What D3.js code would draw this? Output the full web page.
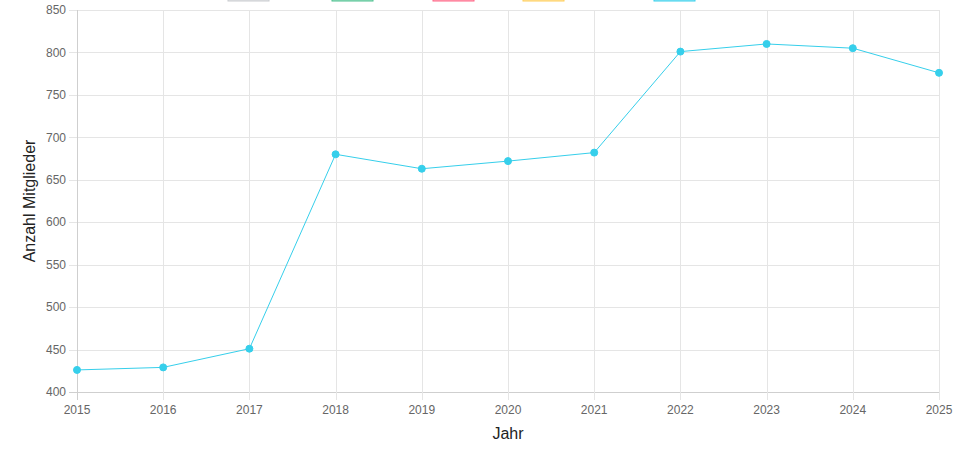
<!DOCTYPE html>
<html>
<head>
<meta charset="utf-8">
<script src="https://cdn.jsdelivr.net/npm/d3@7"></script>
<style>
  body { margin: 0; background: #fff; }
  svg { display: block; font-family: "Liberation Sans", Arial, sans-serif; }
</style>
</head>
<body>
<svg width="974" height="464"></svg>
<script>
const width = 974;
const height = 464;

// Data
const years = [2015, 2016, 2017, 2018, 2019, 2020, 2021, 2022, 2023, 2024, 2025];
const members = [426, 429, 451, 680, 663, 672, 682, 801, 810, 805, 776];
const yTicks = [400, 450, 500, 550, 600, 650, 700, 750, 800, 850];

// Legend swatches (cut off at the top edge in the original)
const legendColors = ["#c9cbcf", "#4bc08e", "#ff6384", "#ffcd56", "#36cfeb"];
const legendX = [228, 332, 433, 523, 654];

const margin = { top: 10, right: 35, bottom: 72, left: 77 };

const svg = d3.select('svg');

const x = d3.scalePoint()
  .domain(years)
  .range([margin.left, width - margin.right]);

const y = d3.scaleLinear()
  .domain([400, 850])
  .range([height - margin.bottom, margin.top]);

// Gridlines
svg.append("g")
  .selectAll("line")
  .data(yTicks)
  .enter().append("line")
  .attr("x1", margin.left - 8)
  .attr("x2", width - margin.right)
  .attr("y1", d => Math.round(y(d)) + 0.5)
  .attr("y2", d => Math.round(y(d)) + 0.5)
  .style("stroke", d => d === 400 ? "#cfcfcf" : "#e5e5e5");

svg.append("g")
  .selectAll("line")
  .data(years)
  .enter().append("line")
  .attr("x1", d => Math.round(x(d)) + 0.5)
  .attr("x2", d => Math.round(x(d)) + 0.5)
  .attr("y1", margin.top)
  .attr("y2", height - margin.bottom + 8)
  .style("stroke", d => d === 2015 ? "#cfcfcf" : "#e5e5e5");

// Tick labels
svg.append("g")
  .selectAll("text")
  .data(yTicks)
  .enter().append("text")
  .attr("x", margin.left - 11)
  .attr("y", d => y(d))
  .attr("dy", "0.35em")
  .attr("text-anchor", "end")
  .text(d => d)
  .style("font-size", "12px")
  .style("fill", "#666");

svg.append("g")
  .selectAll("text")
  .data(years)
  .enter().append("text")
  .attr("x", d => x(d))
  .attr("y", height - margin.bottom + 22)
  .attr("text-anchor", "middle")
  .text(d => d)
  .style("font-size", "12px")
  .style("fill", "#666");

// Axis titles
svg.append("text")
  .attr("x", (margin.left + width - margin.right) / 2)
  .attr("y", 439)
  .attr("text-anchor", "middle")
  .text("Jahr")
  .style("font-size", "16px")
  .style("fill", "#222");

svg.append("text")
  .attr("transform", `translate(35,${(margin.top + height - margin.bottom) / 2}) rotate(-90)`)
  .attr("text-anchor", "middle")
  .text("Anzahl Mitglieder")
  .style("font-size", "16px")
  .style("fill", "#222");

// Legend boxes, mostly above the visible area
svg.append("g")
  .selectAll("rect")
  .data(legendColors)
  .enter().append("rect")
  .attr("x", (d, i) => legendX[i])
  .attr("y", -12)
  .attr("width", 41)
  .attr("height", 13)
  .style("fill", d => d)
  .style("fill-opacity", 0.5)
  .style("stroke", d => d)
  .style("stroke-width", 1);

// Line
const line = d3.line()
  .x((d, i) => x(years[i]))
  .y(d => y(d));

svg.append("path")
  .datum(members)
  .attr("d", line)
  .style("fill", "none")
  .style("stroke", "#36cfeb")
  .style("stroke-width", 1);

// Points
svg.append("g")
  .selectAll("circle")
  .data(members)
  .enter().append("circle")
  .attr("cx", (d, i) => x(years[i]))
  .attr("cy", d => y(d))
  .attr("r", 3.5)
  .style("fill", "#36cfeb")
  .style("stroke", "#36cfeb")
  .style("stroke-width", 1);
</script>
</body>
</html>
